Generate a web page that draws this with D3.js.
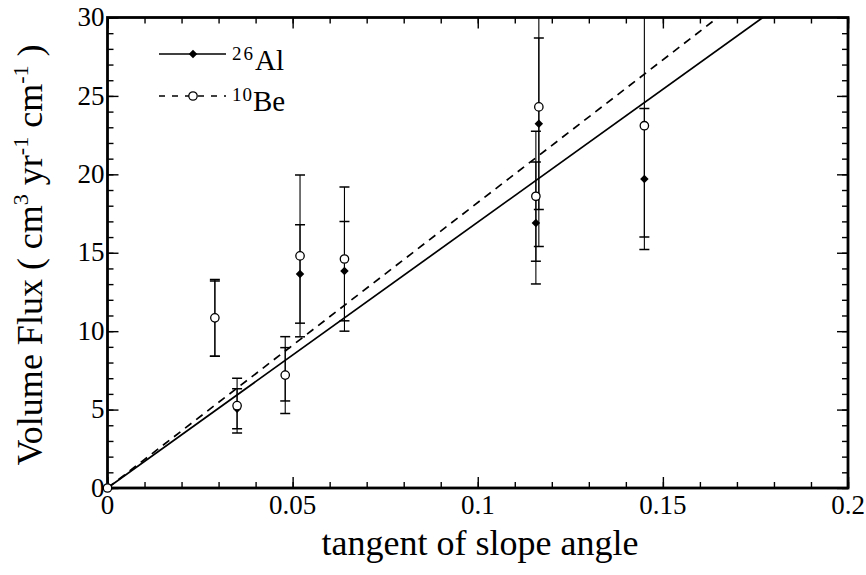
<!DOCTYPE html>
<html>
<head>
<meta charset="utf-8">
<script src="https://cdn.jsdelivr.net/npm/d3@7"></script>
<style>
  body { margin: 0; background: #fff; }
  text { font-family: "Liberation Serif", "Times New Roman", serif; fill: #000; }
</style>
</head>
<body>
<svg id="chart" width="866" height="575"></svg>
<script>
// Sample slopes (tangent of slope angle), first entry is the origin anchor
const slope   = [0, 0.029, 0.035, 0.048, 0.052, 0.064, 0.1157, 0.1165, 0.145];
// 26Al-derived volume flux and its uncertainty (cm^3 yr^-1 cm^-1)
const alFlux  = [0, 10.8, 5.05, 7.25, 13.65, 13.83, 16.9, 23.23, 19.7];
const alErr   = [0, 2.4, 1.28, 1.7, 3.14, 3.17, 3.89, 5.47, 4.5];
// 10Be-derived volume flux and its uncertainty
const beFlux  = [0, 10.85, 5.25, 7.2, 14.8, 14.6, 18.6, 24.3, 23.1];
const beErr   = [0, 2.45, 1.75, 2.45, 5.16, 4.6, 4.14, 8.9, 7.1];
// Slopes of the fits through the origin
const alFitSlope = 169.5;
const beFitSlope = 182;
// Axis ticks
const xMajor = [0, 0.05, 0.1, 0.15, 0.2];
const xTickLabels = ["0", "0.05", "0.1", "0.15", "0.2"];
const yMajor = [0, 5, 10, 15, 20, 25, 30];
const xMinor = d3.range(0, 0.2001, 0.01);
const yMinor = d3.range(0, 30.01, 1);

const svg = d3.select("#chart");
const plotLeft = 107.5, plotRight = 848, plotTop = 17.5, plotBottom = 488;

const x = d3.scaleLinear().domain([0, 0.2]).range([plotLeft, plotRight]);
const y = d3.scaleLinear().domain([0, 30]).range([plotBottom, plotTop]);

svg.append("defs").append("clipPath").attr("id", "plot")
  .append("rect").attr("x", plotLeft).attr("y", plotTop)
  .attr("width", plotRight - plotLeft).attr("height", plotBottom - plotTop);

// Tick marks on all four sides, pointing inward
function ticks(axisFn, scale, values, size, transform) {
  const g = svg.append("g").attr("transform", transform)
    .call(axisFn(scale).tickValues(values).tickSize(size).tickFormat(""));
  g.select(".domain").remove();
  g.selectAll("line").attr("stroke", "#000").attr("stroke-width", 1.4);
  return g;
}
ticks(d3.axisBottom, x, xMinor, -6, `translate(0,${plotBottom})`);
ticks(d3.axisBottom, x, xMajor, -11, `translate(0,${plotBottom})`);
ticks(d3.axisTop, x, xMinor, -6, `translate(0,${plotTop})`);
ticks(d3.axisTop, x, xMajor, -11, `translate(0,${plotTop})`);
ticks(d3.axisLeft, y, yMinor, -6, `translate(${plotLeft},0)`);
ticks(d3.axisLeft, y, yMajor, -11, `translate(${plotLeft},0)`);
ticks(d3.axisRight, y, yMinor, -6, `translate(${plotRight},0)`);
ticks(d3.axisRight, y, yMajor, -11, `translate(${plotRight},0)`);

// Tick labels
svg.append("g").selectAll("text").data(xMajor).join("text")
  .attr("x", d => x(d)).attr("y", 514)
  .attr("text-anchor", "middle").attr("font-size", 27)
  .text((d, i) => xTickLabels[i]);
svg.append("g").selectAll("text").data(yMajor).join("text")
  .attr("x", plotLeft - 3).attr("y", d => y(d)).attr("dy", "0.32em")
  .attr("text-anchor", "end").attr("font-size", 27)
  .text(d => d);

// Frame
svg.append("rect").attr("x", plotLeft).attr("y", plotTop)
  .attr("width", plotRight - plotLeft).attr("height", plotBottom - plotTop)
  .attr("fill", "none").attr("stroke", "#000").attr("stroke-width", 2.8);

const plot = svg.append("g").attr("clip-path", "url(#plot)");

// Fit lines through the origin
const line = d3.line().x(d => x(d[0])).y(d => y(d[1]));
plot.append("path").datum([[0, 0], [0.2, 0.2 * alFitSlope]])
  .attr("d", line).attr("fill", "none").attr("stroke", "#000").attr("stroke-width", 1.7);
plot.append("path").datum([[0, 0], [0.2, 0.2 * beFitSlope]])
  .attr("d", line).attr("fill", "none").attr("stroke", "#000").attr("stroke-width", 1.7)
  .attr("stroke-dasharray", "8,6");

// Error bars
function errorBars(vals, errs) {
  const data = slope.map((s, i) => ({ s, v: vals[i], e: errs[i] })).filter(d => d.e > 0);
  const g = plot.append("g").attr("stroke", "#000").attr("stroke-width", 1.1);
  g.selectAll(".v").data(data).join("line")
    .attr("x1", d => x(d.s)).attr("x2", d => x(d.s))
    .attr("y1", d => y(d.v - d.e)).attr("y2", d => y(d.v + d.e));
  g.selectAll(".lo").data(data).join("line")
    .attr("x1", d => x(d.s) - 5).attr("x2", d => x(d.s) + 5)
    .attr("y1", d => y(d.v - d.e)).attr("y2", d => y(d.v - d.e)).attr("stroke-width", 1.5);
  g.selectAll(".hi").data(data).join("line")
    .attr("x1", d => x(d.s) - 5).attr("x2", d => x(d.s) + 5)
    .attr("y1", d => y(d.v + d.e)).attr("y2", d => y(d.v + d.e)).attr("stroke-width", 1.5);
}
errorBars(alFlux, alErr);
errorBars(beFlux, beErr);

// Markers: filled diamonds (26Al) under open circles (10Be)
const diamond = d3.symbol().type(d3.symbolDiamond2).size(46);
svg.append("g").selectAll("path").data(slope).join("path")
  .attr("d", diamond)
  .attr("transform", (d, i) => `translate(${x(d)},${y(alFlux[i])})`)
  .attr("fill", "#000");
svg.append("g").selectAll("circle").data(slope).join("circle")
  .attr("cx", d => x(d)).attr("cy", (d, i) => y(beFlux[i])).attr("r", 4.2)
  .attr("fill", "#fff").attr("stroke", "#000").attr("stroke-width", 1.3);

// Legend
const lg = svg.append("g");
lg.append("line").attr("x1", 159).attr("x2", 226).attr("y1", 54).attr("y2", 54)
  .attr("stroke", "#000").attr("stroke-width", 1.4);
lg.append("path").attr("d", diamond).attr("transform", "translate(193,54)").attr("fill", "#000");
lg.append("line").attr("x1", 159).attr("x2", 226).attr("y1", 96).attr("y2", 96)
  .attr("stroke", "#000").attr("stroke-width", 1.4).attr("stroke-dasharray", "6,7");
lg.append("circle").attr("cx", 193).attr("cy", 96).attr("r", 4.2)
  .attr("fill", "#fff").attr("stroke", "#000").attr("stroke-width", 1.3);
const t1 = lg.append("text").attr("x", 232).attr("y", 70).attr("font-size", 29);
t1.append("tspan").attr("font-size", 19).attr("letter-spacing", 2).attr("dy", -10).text("26");
t1.append("tspan").attr("dy", 10).text("Al");
const t2 = lg.append("text").attr("x", 232).attr("y", 111).attr("font-size", 29);
t2.append("tspan").attr("font-size", 19).attr("letter-spacing", 1).attr("dy", -10).text("10");
t2.append("tspan").attr("dy", 10).text("Be");

// Axis titles
svg.append("text").attr("x", 480).attr("y", 555).attr("text-anchor", "middle")
  .attr("font-size", 36).text("tangent of slope angle");
const yt = svg.append("text").attr("transform", "translate(42,255) rotate(-90)")
  .attr("text-anchor", "middle").attr("font-size", 36);
yt.append("tspan").text("Volume Flux ( cm");
yt.append("tspan").attr("font-size", 22).attr("dy", -14).text("3");
yt.append("tspan").attr("dy", 14).text(" yr");
yt.append("tspan").attr("font-size", 22).attr("dy", -14).text("-1");
yt.append("tspan").attr("dy", 14).text(" cm");
yt.append("tspan").attr("font-size", 22).attr("dy", -14).text("-1");
yt.append("tspan").attr("dy", 14).text(" )");
</script>
</body>
</html>
